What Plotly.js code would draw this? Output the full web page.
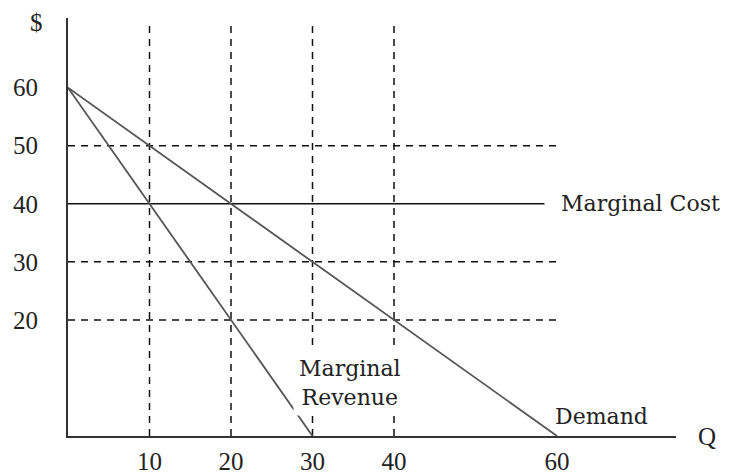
<!DOCTYPE html>
<html>
<head>
<meta charset="utf-8">
<script src="https://cdn.plot.ly/plotly-3.0.1.min.js"></script>
<style>html,body{margin:0;padding:0;background:#fff;}#chart{width:729px;height:475px;}</style>
</head>
<body>
<div id="chart"></div>
<script>
// Data (quantities Q, prices $)
const demandQ = [0, 60];
const demandP = [60, 0];
const mrQ = [0, 30];
const mrP = [60, 0];
const mcQ = [0, 60];
const mcP = [40, 40];
const guidePrices = [50, 30, 20];      // horizontal dashed lines
const guideQuantities = [10, 20, 30, 40]; // vertical dashed lines
const guideQEnd = 60;
const guidePTop = 71;
const xTickVals = [10, 20, 30, 40, 60];
const yTickVals = [20, 30, 40, 50, 60];

const dashStyle = {color: '#111', width: 1.5, dash: '7px,6px'};
const traces = [];
guidePrices.forEach(p => traces.push({x: [0, guideQEnd], y: [p, p], mode: 'lines', line: dashStyle, hoverinfo: 'skip'}));
guideQuantities.forEach(q => traces.push({x: [q, q], y: [0, guidePTop], mode: 'lines', line: dashStyle, hoverinfo: 'skip'}));
traces.push({x: mcQ, y: mcP, mode: 'lines', line: {color: '#111', width: 1.5}});
traces.push({x: demandQ, y: demandP, mode: 'lines', line: {color: '#555', width: 1.8}});
traces.push({x: mrQ, y: mrP, mode: 'lines', line: {color: '#555', width: 1.8}});

const tickFont = {family: 'Liberation Serif', size: 25, color: '#222'};
const labelFont = {family: 'DejaVu Serif', size: 22, color: '#222'};

const layout = {
  width: 729, height: 475,
  margin: {l: 68, r: 53, t: 18, b: 39},
  paper_bgcolor: '#fff', plot_bgcolor: '#fff',
  showlegend: false,
  xaxis: {range: [0, 74.6], showgrid: false, zeroline: false, showline: true, linecolor: '#333', linewidth: 2,
          tickvals: xTickVals, ticktext: xTickVals.map(String), ticks: '', tickfont: tickFont, ticklabelstandoff: 2},
  yaxis: {range: [0, 72], showgrid: false, zeroline: false, showline: true, linecolor: '#333', linewidth: 2,
          tickvals: yTickVals, ticktext: yTickVals.map(String), ticks: '', tickfont: tickFont, ticklabelstandoff: 23},
  annotations: [
    {xref: 'paper', yref: 'paper', x: -0.051, y: 0.99, xanchor: 'center', yanchor: 'middle', text: '$', showarrow: false, font: tickFont},
    {xref: 'paper', yref: 'paper', x: 1.051, y: 0.0, xanchor: 'center', yanchor: 'middle', text: 'Q', showarrow: false, font: tickFont},
    {xref: 'x', yref: 'y', x: 58.4, y: 40, xanchor: 'left', text: 'Marginal Cost', showarrow: false, font: labelFont, bgcolor: '#fff', borderpad: 16},
    {xref: 'x', yref: 'y', x: 34.6, y: 9.1, text: 'Marginal<br>Revenue', showarrow: false, font: labelFont, bgcolor: '#fff', borderpad: 5},
    {xref: 'x', yref: 'y', x: 59.5, y: 3.4, xanchor: 'left', text: 'Demand', showarrow: false, font: labelFont}
  ]
};

Plotly.newPlot('chart', traces, layout, {displayModeBar: false, staticPlot: true});
</script>
</body>
</html>
